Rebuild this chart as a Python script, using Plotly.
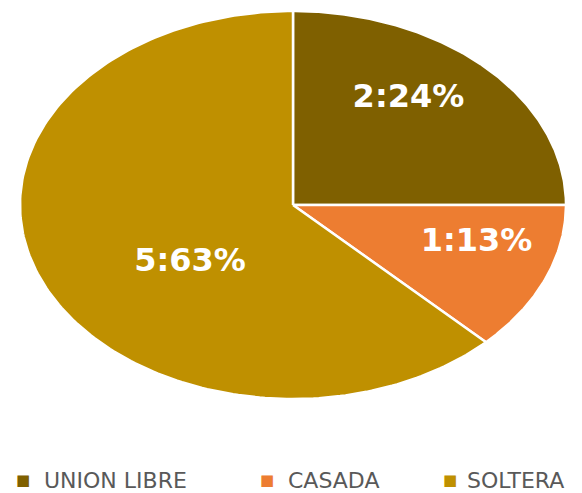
import numpy as np
import plotly.graph_objects as go

categories = ["UNION LIBRE", "CASADA", "SOLTERA"]
values = [2, 1, 5]
pct_labels = ["24%", "13%", "63%"]
colors = ["#7F6000", "#ED7D31", "#BF9000"]
# label placement (style): fraction along slice angle, radius fraction
label_t = [0.42, 0.36, 0.43]
label_r = [0.69, 0.70, 0.48]

W, H = 582, 493
OFF = 8  # page body margin
FW, FH = W - OFF, H - OFF
cx_px, cy_px, rx_px, ry_px = 293 - OFF, 205 - OFF, 273, 194

fig = go.Figure()
total = float(sum(values))
start = 0.0
for name, v, pl, col, lt, lr in zip(categories, values, pct_labels, colors, label_t, label_r):
    frac = v / total
    a0, a1 = start * 2 * np.pi, (start + frac) * 2 * np.pi
    th = np.linspace(a0, a1, 200)
    xs = np.concatenate([[0], np.sin(th), [0]])
    ys = np.concatenate([[0], np.cos(th), [0]])
    fig.add_trace(go.Scatter(x=xs, y=ys, mode="lines", fill="toself",
                             fillcolor=col, line=dict(color="white", width=2.5),
                             hoverinfo="skip", showlegend=False, name=name))
    la = a0 + lt * (a1 - a0)
    fig.add_trace(go.Scatter(x=[lr * np.sin(la)], y=[lr * np.cos(la)], mode="text",
                             text=[f"<b>{v}:{pl}</b>"],
                             textfont=dict(family="DejaVu Sans", size=32, color="white"),
                             hoverinfo="skip", showlegend=False))
    start += frac

x0 = -cx_px / rx_px
x1 = (FW - cx_px) / rx_px
y1 = cy_px / ry_px
y0 = -(FH - cy_px) / ry_px

leg_marker_x = [23, 267, 450]
leg_text_x = [42, 286, 465]
leg_y = 480
for name, col, mx, tx in zip(categories, colors, leg_marker_x, leg_text_x):
    fig.add_annotation(xref="paper", yref="paper", x=(mx - OFF) / FW, y=1 - (leg_y - OFF) / FH,
                       xanchor="center", yanchor="middle", showarrow=False,
                       text="■", font=dict(family="DejaVu Sans", size=15, color=col))
    fig.add_annotation(xref="paper", yref="paper", x=(tx - OFF) / FW, y=1 - (leg_y - OFF) / FH,
                       xanchor="left", yanchor="middle", showarrow=False,
                       text=name, font=dict(family="DejaVu Sans", size=22, color="#595959"))

fig.update_layout(
    width=FW, height=FH, margin=dict(l=0, r=0, t=0, b=0),
    paper_bgcolor="white", plot_bgcolor="white",
    xaxis=dict(range=[x0, x1], visible=False, fixedrange=True),
    yaxis=dict(range=[y0, y1], visible=False, fixedrange=True),
    showlegend=False,
)
fig.write_html("out.html")
